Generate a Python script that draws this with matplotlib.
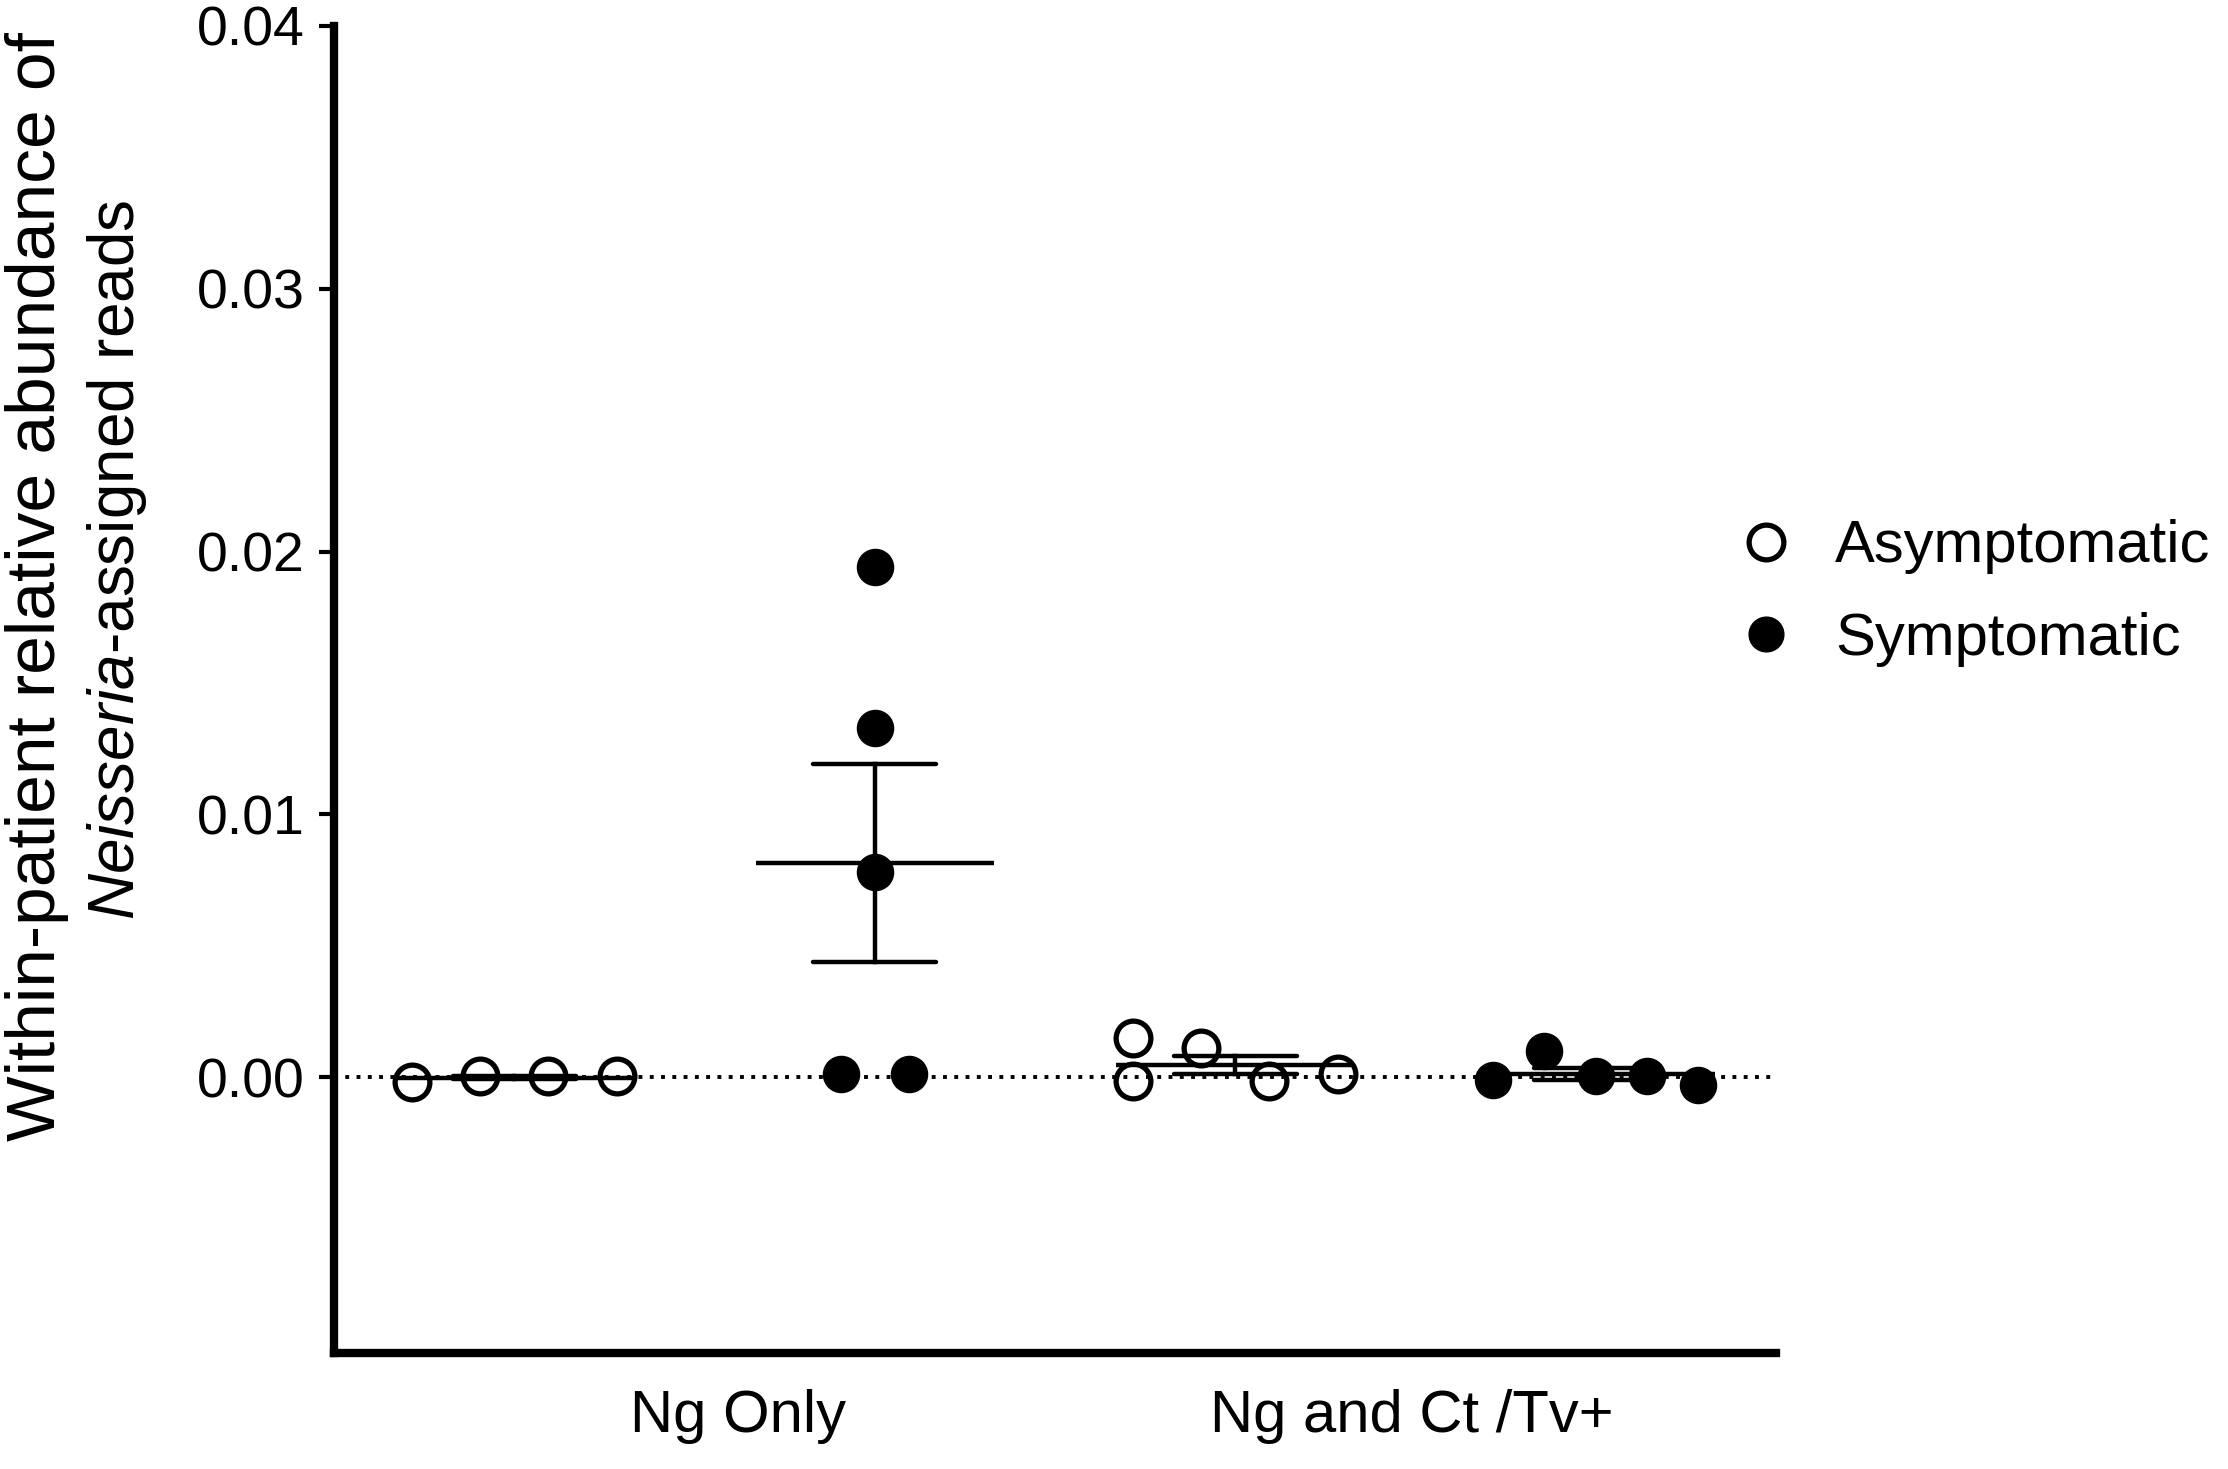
import numpy as np
import matplotlib
matplotlib.use('Agg')
import matplotlib.pyplot as plt
from matplotlib.lines import Line2D

plt.rcParams['font.family'] = ['Liberation Sans', 'DejaVu Sans']
plt.rcParams['mathtext.fontset'] = 'custom'
plt.rcParams['mathtext.rm'] = 'Liberation Sans'
plt.rcParams['mathtext.it'] = 'Liberation Sans:italic'

# data
categories = ['Ng Only', 'Ng and Ct /Tv+']
series = ['Asymptomatic', 'Symptomatic']
ng_only_asym = [-0.0002, 0.00003, 0.00003, 0.00003]
ng_only_sym = [0.0194, 0.0133, 0.0078, 0.0001, 0.0001]
ngct_asym = [0.0015, -0.00016, 0.0011, -0.00016, 0.0001]
ngct_sym = [-0.0001, 0.001, 0.00003, 0.00003, -0.0003]
yticks = [0.00, 0.01, 0.02, 0.03, 0.04]

# column scatter slots (GraphPad style horizontal spreading)
groups = [
    (1, ng_only_asym, [-1.5, -0.5, 0.5, 1.5], 0.19, False),
    (2, ng_only_sym, [0, 0, 0, -0.5, 0.5], 0.19, True),
    (3, ngct_asym, [-1.5, -1.5, -0.5, 0.5, 1.5], 0.19, False),
    (4, ngct_sym, [-2, -1, 0, 1, 2], 0.1425, True),
]

fig = plt.figure(figsize=(22.28, 14.69), dpi=100)
ax = fig.add_axes([334 / 2228, 1 - 1353 / 1469, (1776 - 334) / 2228, (1353 - 26) / 1469])

ax.axhline(0, color='black', lw=2.8, ls=(0, (1, 1.9)), zorder=1)

for xc, vals, slots, step, filled in groups:
    xs = xc + np.array(slots) * step
    if filled:
        ax.plot(xs, vals, 'o', ms=26, mfc='black', mec='black', zorder=3)
    else:
        ax.plot(xs, vals, 'o', ms=25, mfc='none', mec='black', mew=3.8, zorder=3)
    v = np.array(vals)
    m = v.mean()
    sem = v.std(ddof=1) / np.sqrt(len(v))
    ax.plot([xc - 0.33, xc + 0.33], [m, m], color='black', lw=3.2, solid_capstyle='butt', zorder=4)
    ax.plot([xc, xc], [m - sem, m + sem], color='black', lw=3.2, zorder=4)
    for yy in (m - sem, m + sem):
        ax.plot([xc - 0.17, xc + 0.17], [yy, yy], color='black', lw=3.2, solid_capstyle='round', zorder=4)

ax.set_xlim(0.5, 4.5)
ax.set_ylim(-0.0105, 0.04)
ax.set_yticks(yticks)
ax.set_yticklabels(['%.2f' % t for t in yticks])
ax.set_xticks([1.62, 3.49])
ax.set_xticklabels(categories)

for s in ['top', 'right']:
    ax.spines[s].set_visible(False)
for s in ['left', 'bottom']:
    ax.spines[s].set_linewidth(6)
ax.tick_params(axis='y', length=11, width=3, labelsize=40, pad=10)
ax.tick_params(axis='x', length=0, labelsize=43, pad=26)

fig.text(37 / 2228, 1 - 587 / 1469, 'Within-patient relative abundance of',
         rotation=90, ha='center', va='center', fontsize=50)
fig.text(117 / 2228, 1 - 560 / 1469, r'$\mathit{Neisseria}$-assigned reads',
         rotation=90, ha='center', va='center', fontsize=46)

handles = [
    Line2D([], [], ls='none', marker='o', ms=25, mfc='none', mec='black', mew=3.8),
    Line2D([], [], ls='none', marker='o', ms=25, mfc='black', mec='black'),
]
fig.legend(handles, series, loc='center left', bbox_to_anchor=(1748 / 2228, 1 - 593 / 1469),
           frameon=False, fontsize=43, handlelength=0.6, handletextpad=0.86,
           labelspacing=0.62, borderpad=0, borderaxespad=0)

fig.savefig('out.png', dpi=100)
